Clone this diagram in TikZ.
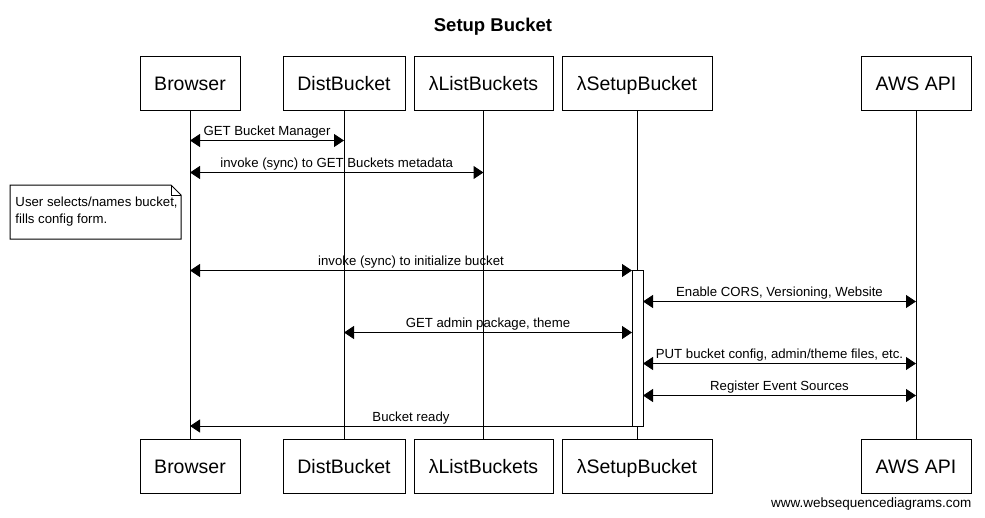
\documentclass[tikz,border=0pt]{standalone}
\usepackage{fontspec}
\setmainfont{Liberation Sans}
\usetikzlibrary{arrows.meta,shapes.misc}
\begin{document}
\begin{tikzpicture}[x=1pt,y=-1pt,line width=1pt,
  part/.style={draw,fill=white,minimum height=54pt,inner sep=0pt,text height=14pt,text depth=0pt,font=\fontsize{19.5}{22}\selectfont},
  msg/.style={draw,{Triangle[length=10pt,width=13pt]}-{Triangle[length=10pt,width=13pt]}},
  msgl/.style={draw,-{Triangle[length=10pt,width=13pt]}},
  lbl/.style={font=\fontsize{13.2}{15}\selectfont,inner sep=0pt,anchor=base},
  life/.style={draw}]
\useasboundingbox (0,0) rectangle (985,517);
\fill[white] (0,0) rectangle (985,517);
% title
\node[font=\bfseries\fontsize{18.5}{22}\selectfont,anchor=base] (title) at (493,31) {Setup Bucket};
% participants top
\node[part,minimum width=100pt] (tB) at (190,83) {Browser};
\node[part,minimum width=122pt] (tD) at (344,83) {DistBucket};
\node[part,minimum width=139pt] (tL) at (483.5,83) {λListBuckets};
\node[part,minimum width=150pt] (tS) at (637,83) {λSetupBucket};
\node[part,minimum width=110pt] (tA) at (916,83) {AWS API};
% participants bottom
\node[part,minimum width=100pt] (bB) at (190,466) {Browser};
\node[part,minimum width=122pt] (bD) at (344,466) {DistBucket};
\node[part,minimum width=139pt] (bL) at (483.5,466) {λListBuckets};
\node[part,minimum width=150pt] (bS) at (637,466) {λSetupBucket};
\node[part,minimum width=110pt] (bA) at (916,466) {AWS API};
% lifelines
\draw[life] (tB.south) -- (bB.north);
\draw[life] (tD.south) -- (bD.north);
\draw[life] (tL.south) -- (bL.north);
\draw[life] (tS.south) -- (bS.north);
\draw[life] (tA.south) -- (bA.north);
% activation
\node[draw,fill=white,inner sep=0pt,minimum width=11pt,minimum height=156pt] (act) at (637.5,348) {};
% coordinates
\coordinate (m1a) at (190,140.5); \coordinate (m1b) at (344,140.5);
\coordinate (m2a) at (190,172.5); \coordinate (m2b) at (483.5,172.5);
\coordinate (m3a) at (190,270.5); \coordinate (m3b) at (632,270.5);
\coordinate (m4a) at (643,301.5); \coordinate (m4b) at (916,301.5);
\coordinate (m5a) at (344,332.5); \coordinate (m5b) at (632,332.5);
\coordinate (m6a) at (643,363.5); \coordinate (m6b) at (916,363.5);
\coordinate (m7a) at (643,395.5); \coordinate (m7b) at (916,395.5);
\coordinate (m8a) at (632,426); \coordinate (m8b) at (190,426);
% messages
\draw[msg] (m1a) -- node[lbl,yshift=5pt] (l1) {GET Bucket Manager} (m1b);
\draw[msg] (m2a) -- node[lbl,yshift=5pt] (l2) {invoke (sync) to GET Buckets metadata} (m2b);
\draw[msg] (m3a) -- node[lbl,yshift=5pt] (l3) {invoke (sync) to initialize bucket} (m3b);
\draw[msg] (m4a) -- node[lbl,yshift=5pt] (l4) {Enable CORS, Versioning, Website} (m4b);
\draw[msg] (m5a) -- node[lbl,yshift=5pt] (l5) {GET admin package, theme} (m5b);
\draw[msg] (m6a) -- node[lbl,yshift=5pt] (l6) {PUT bucket config, admin/theme files, etc.} (m6b);
\draw[msg] (m7a) -- node[lbl,yshift=5pt] (l7) {Register Event Sources} (m7b);
\draw[msgl] (m8a) -- node[lbl,yshift=5pt] (l8) {Bucket ready} (m8b);
% note
\draw[fill=white] (10,185) -- (171,185) -- (181,195) -- (181,239) -- (10,239) -- cycle;
\draw (171,185) -- (171,195) -- (181,195);
\node[font=\fontsize{13.2}{17}\selectfont,align=left,anchor=north west,inner sep=0pt] (note) at (15,196) {User selects/names bucket,\\fills config form.};
% footer
\node[font=\fontsize{13.5}{16}\selectfont,anchor=base east,inner sep=0pt] (foot) at (972,507) {www.websequencediagrams.com};
\end{tikzpicture}
\end{document}
